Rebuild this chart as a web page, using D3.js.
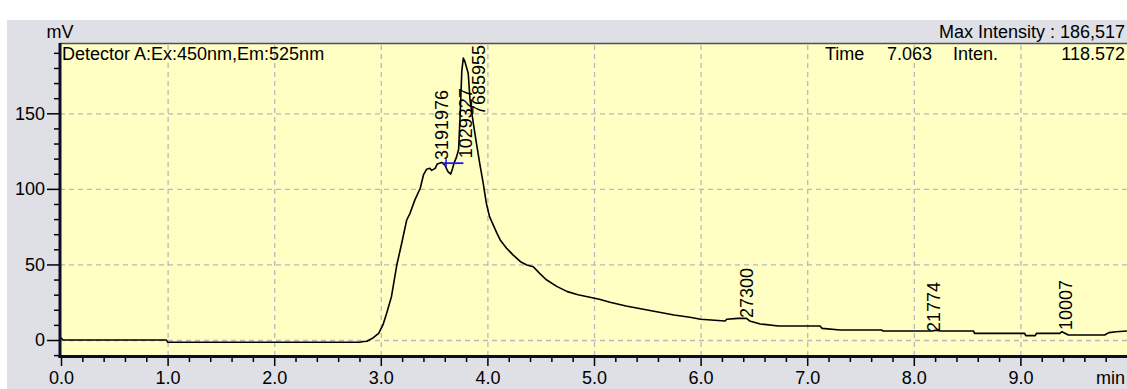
<!DOCTYPE html>
<html><head><meta charset="utf-8">
<script src="https://cdn.jsdelivr.net/npm/d3@7"></script>
<style>
html,body{margin:0;padding:0;background:#fff;}
svg{display:block;}
text{font-family:"Liberation Sans",Arial,sans-serif;}
</style></head><body>
<svg id="c" width="1127" height="389"></svg>
<script>
// ---- data ----
const times = [0.00,0.02,0.99,1.00,2.80,2.84,2.87,2.93,2.98,3.02,3.055,3.10,3.15,3.196,3.243,3.274,3.32,3.37,3.40,3.43,3.46,3.477,3.51,3.53,3.57,3.60,3.63,3.656,3.674,3.687,3.71,3.73,3.745,3.76,3.774,3.79,3.82,3.837,3.868,3.90,3.93,3.96,3.99,4.02,4.09,4.12,4.18,4.24,4.31,4.37,4.43,4.49,4.55,4.65,4.75,4.85,4.95,5.05,5.15,5.30,5.45,5.60,5.75,5.90,6.00,6.23,6.245,6.35,6.43,6.46,6.56,6.73,7.12,7.14,7.31,7.70,7.71,8.18,8.20,8.25,8.56,8.57,9.04,9.05,9.14,9.15,9.37,9.39,9.45,9.79,9.83,9.90,10.0];
const values = [1.5,0,0,-1.5,-1.5,-1.0,-0.8,1.5,4.4,10,17.7,28.7,49.6,64,79.4,83.8,92.7,100.4,109.2,113,113.6,112.2,113.6,116.5,117.5,115.8,111.4,109.8,113.6,117,121,126,150,178,186.5,184,176.5,158.8,143.4,129,116,104,90.5,81.6,70.6,66.2,60.7,56.3,51.8,49.6,48.5,44.1,40,35.5,32,30,28.5,27,25,22.5,20.5,18.5,16.5,15,13.7,12.6,13.7,14.3,14.3,12.6,10.6,9.3,9.3,7.7,6.6,6.6,6.0,6.0,6.5,6.0,6.0,4.4,4.4,2.9,2.9,4.4,4.4,5.5,3.3,3.3,4.9,5.5,6.0];
const xMajorTicks = [0,1,2,3,4,5,6,7,8,9];
const xTickLabels = ["0.0","1.0","2.0","3.0","4.0","5.0","6.0","7.0","8.0","9.0"];
const yMajorTicks = [0,50,100,150];
const yTickLabels = ["0","50","100","150"];
const peakLabels = ["3191976","1029327","7685955","27300","21774","10007"];
const peakLabelTimes = [3.630,3.853,3.977,6.49,8.246,9.484];
const peakLabelValues = [119.1,120.3,148.9,14.6,5.3,6.6];
const baselineTimes = [3.575,3.775];
const baselineValue = 117;
const xUnit = "min", yUnit = "mV";
const detectorText = "Detector A:Ex:450nm,Em:525nm";
const maxText = "Max Intensity : 186,517";
const cursorTime = "7.063", cursorInten = "118.572";

// ---- drawing ----
const W=1127,H=389;
const svg=d3.select("#c");
const P={left:60,top:43,right:1127,bottom:356};
const x=d3.scaleLinear().domain([0,10]).range([61,1127]);
const y=d3.scaleLinear().domain([0,150]).range([340,113.3]);
const FS=18;

svg.append("rect").attr("x",7).attr("y",20).attr("width",W-7).attr("height",H-20).attr("fill","#dfdfe6");
svg.append("rect").attr("x",P.left).attr("y",P.top).attr("width",P.right-P.left).attr("height",P.bottom-P.top).attr("fill","#ffffc4");

// grid
const gx=svg.append("g").attr("transform",`translate(0,${P.bottom})`)
  .call(d3.axisBottom(x).tickValues(xMajorTicks.filter(d=>d>0)).tickSize(-(P.bottom-P.top)).tickFormat(""));
gx.select(".domain").remove();
gx.selectAll("line").attr("stroke","#b8b8c4").attr("stroke-width",1.3).attr("stroke-dasharray","5,4");
const gy=svg.append("g").attr("transform",`translate(${P.left},0)`)
  .call(d3.axisLeft(y).tickValues(yMajorTicks).tickSize(-(P.right-P.left)).tickFormat(""));
gy.select(".domain").remove();
gy.selectAll("line").attr("stroke","#b8b8c4").attr("stroke-width",1.3).attr("stroke-dasharray","5,4");

// top border
svg.append("line").attr("x1",P.left).attr("x2",P.right).attr("y1",P.top+0.5).attr("y2",P.top+0.5).attr("stroke","#505058").attr("stroke-width",1.5);

// curve
const pts=times.map((t,i)=>[t,values[i]]);
svg.append("path").datum(pts).attr("fill","none").attr("stroke","#000").attr("stroke-width",1.6)
  .attr("stroke-linejoin","round")
  .attr("d",d3.line().x(d=>x(d[0])).y(d=>y(d[1])));

// baseline marker (blue)
svg.append("line").attr("x1",x(baselineTimes[0])).attr("x2",x(baselineTimes[1]))
  .attr("y1",y(baselineValue)).attr("y2",y(baselineValue)).attr("stroke","#1a1ae6").attr("stroke-width",1.8);
svg.append("line").attr("x1",x(baselineTimes[0])+4).attr("x2",x(baselineTimes[0])+4)
  .attr("y1",y(baselineValue)-4).attr("y2",y(baselineValue)+4).attr("stroke","#1a1ae6").attr("stroke-width",1.5);

// peak labels
peakLabels.forEach((s,i)=>{
  const px=x(peakLabelTimes[i]), py=y(peakLabelValues[i]);
  svg.append("text").attr("transform",`translate(${px},${py}) rotate(-90)`)
    .attr("font-size",FS).attr("fill","#000").attr("text-anchor","start").text(s);
});

// axes ticks
const axB=svg.append("g").attr("transform",`translate(0,${P.bottom+1})`)
  .call(d3.axisBottom(x).tickValues(xMajorTicks).tickSize(9).tickPadding(5.2).tickFormat((d,i)=>xTickLabels[i]));
axB.select(".domain").remove();
axB.selectAll("line").attr("stroke","#000").attr("stroke-width",1.5);
axB.selectAll("text").attr("font-size",FS).attr("fill","#000").attr("font-family","Liberation Sans, Arial, sans-serif");
const minorX=d3.range(0,50).map(i=>i*0.2).filter(d=>Math.abs(d-Math.round(d))>1e-6);
const axBm=svg.append("g").attr("transform",`translate(0,${P.bottom+1})`)
  .call(d3.axisBottom(x).tickValues(minorX).tickSize(5).tickFormat(""));
axBm.select(".domain").remove();
axBm.selectAll("line").attr("stroke","#000").attr("stroke-width",1.5);

const axL=svg.append("g").attr("transform",`translate(${P.left},0)`)
  .call(d3.axisLeft(y).tickValues(yMajorTicks).tickSize(13).tickPadding(2).tickFormat((d,i)=>yTickLabels[i]));
axL.select(".domain").remove();
axL.selectAll("line").attr("stroke","#000").attr("stroke-width",1.5);
axL.selectAll("text").attr("font-size",FS).attr("fill","#000").attr("font-family","Liberation Sans, Arial, sans-serif");
const minorY=d3.range(-1,20).map(i=>i*10).filter(d=>d%50!==0);
const axLm=svg.append("g").attr("transform",`translate(${P.left},0)`)
  .call(d3.axisLeft(y).tickValues(minorY).tickSize(6).tickFormat(""));
axLm.select(".domain").remove();
axLm.selectAll("line").attr("stroke","#000").attr("stroke-width",1.5);

// axis lines
svg.append("line").attr("x1",P.left).attr("x2",P.left).attr("y1",P.top).attr("y2",P.bottom+2).attr("stroke","#0c0c24").attr("stroke-width",3);
svg.append("line").attr("x1",P.left-1.5).attr("x2",P.right).attr("y1",P.bottom+0.5).attr("y2",P.bottom+0.5).attr("stroke","#0c0c24").attr("stroke-width",3);

// texts
const T=(s,xx,yy,anchor)=>svg.append("text").attr("x",xx).attr("y",yy).attr("font-size",FS).attr("fill","#000").attr("text-anchor",anchor||"start").text(s);
T(yUnit,46.5,38.3);
T(xUnit,1125,384,"end");
T(detectorText,62,59.5);
T(maxText,1125,38.3,"end");
T("Time",825,59.5);
T(cursorTime,932,59.5,"end");
T("Inten.",953,59.5);
T(cursorInten,1125,59.5,"end");
</script></body></html>
